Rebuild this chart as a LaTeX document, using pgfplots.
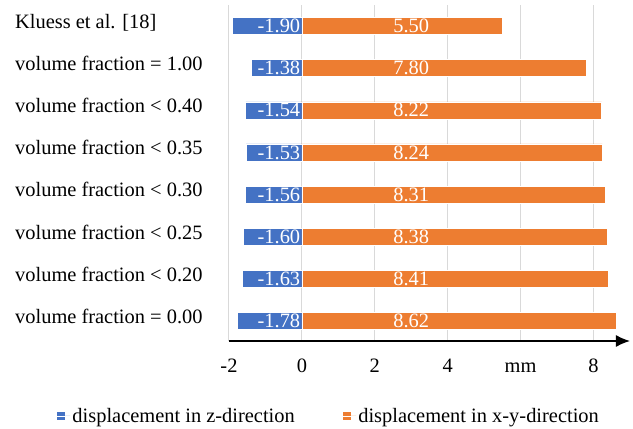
\documentclass[border=0pt]{standalone}
\usepackage{fontspec}
\setmainfont{Liberation Serif}
\usepackage{pgfplots}
\usepackage{pgfplotstable}
\pgfplotsset{compat=1.18}
\usetikzlibrary{arrows.meta}
\definecolor{zblue}{HTML}{4472C4}
\definecolor{xyorange}{HTML}{ED7D31}
\pgfplotstableread{
y z xy
0 -1.78 8.62
1 -1.63 8.41
2 -1.60 8.38
3 -1.56 8.31
4 -1.53 8.24
5 -1.54 8.22
6 -1.38 7.80
7 -1.90 5.50
}\data
\begin{document}
\begin{tikzpicture}
\begin{axis}[
  scale only axis, width=401bp, height=336bp,
  xmin=-2, xmax=9, ymin=-0.475, ymax=7.5,
  axis x line=bottom, axis y line=left,
  y axis line style={draw=none},
  x axis line style={line width=1.5bp, -{Latex[length=14bp,width=12bp]}},
  xtick={-2,0,2,4,6,8}, xticklabels={-2,0,2,4,mm,8},
  ytick={0,1,2,3,4,5,6,7},
  yticklabels={{volume fraction = 0.00},{volume fraction < 0.20},{volume fraction < 0.25},{volume fraction < 0.30},{volume fraction < 0.35},{volume fraction < 0.40},{volume fraction = 1.00},{Kluess et al. [18]}},
  major tick length=0pt,
  xmajorgrids=true, grid style={draw=black!15, line width=1bp},
  tick label style={font=\fontsize{20.5}{24}\selectfont},
  xticklabel style={anchor=base, yshift=-31bp, inner sep=0pt},
  yticklabel style={anchor=mid west, xshift=-214bp, inner sep=0pt},
  legend style={draw=none, fill=none, at={(0.249,-0.223)}, anchor=center,
    font=\fontsize{20.5}{24}\selectfont, legend columns=2,
    /tikz/every even column/.append style={column sep=46bp}},
]
\addplot[xbar, bar width=17bp, bar shift=0pt, fill=zblue, draw=white, line width=0.6bp,
  legend image code/.code={\fill[zblue] (0bp,-3.5bp) rectangle (7bp,3.5bp); \path (0bp,0bp) -- (13bp,0bp);}]
  table[x=z, y=y]{\data};
\addlegendentry{displacement in z-direction}
\addplot[xbar, bar width=17bp, bar shift=0pt, fill=xyorange, draw=white, line width=0.6bp,
  legend image code/.code={\fill[xyorange] (0bp,-3.5bp) rectangle (7bp,3.5bp); \path (0bp,0bp) -- (13bp,0bp);}]
  table[x=xy, y=y]{\data};
\addlegendentry{displacement in x-y-direction}
\addplot[forget plot, draw=none, mark=none, nodes near coords, point meta=explicit symbolic,
  nodes near coords style={anchor=east, text=white, inner sep=1.5bp, font=\fontsize{20.5}{24}\selectfont}]
  table[x expr=0, y=y, meta=z]{\data};
\addplot[forget plot, draw=none, mark=none, nodes near coords, point meta=explicit symbolic,
  nodes near coords style={anchor=center, text=white, inner sep=0bp, font=\fontsize{20.5}{24}\selectfont}]
  table[x expr=3, y=y, meta=xy]{\data};
\end{axis}
\pgfresetboundingbox
\path (current axis.south west) ++(-229bp,-88bp) rectangle ++(633bp,429bp);
\end{tikzpicture}
\end{document}
